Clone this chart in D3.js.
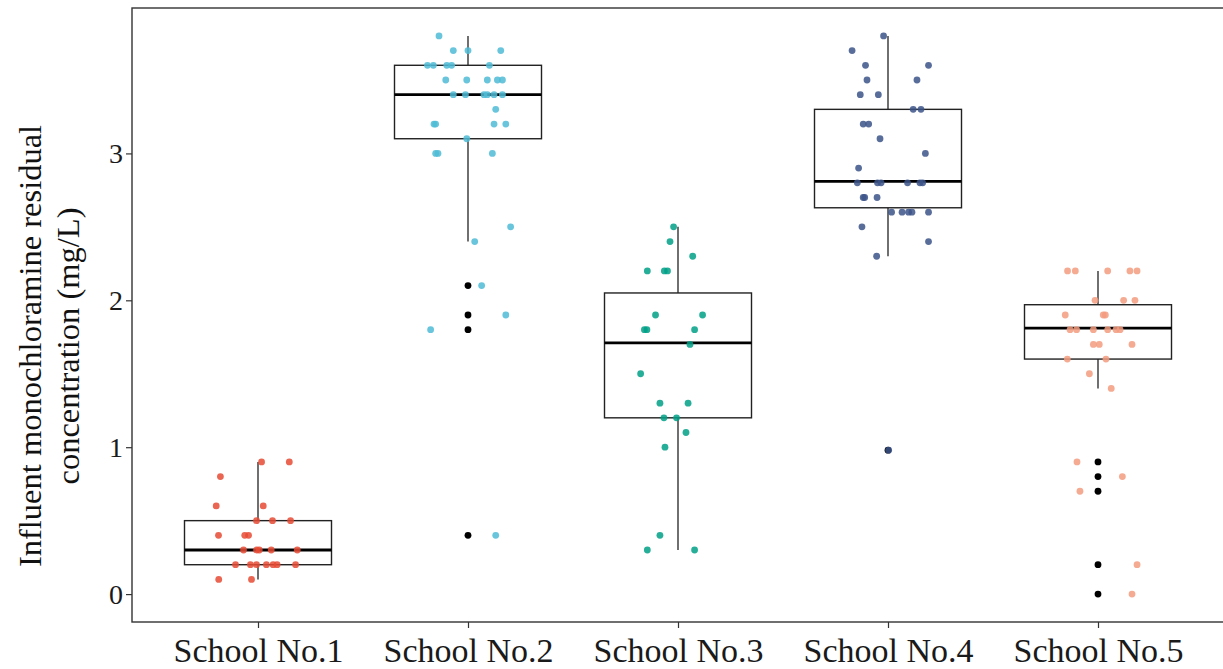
<!DOCTYPE html>
<html>
<head>
<meta charset="utf-8">
<script src="https://cdn.jsdelivr.net/npm/d3@7"></script>
<style>
  html, body { margin: 0; padding: 0; background: #fff; }
  svg { display: block; }
</style>
</head>
<body>
<svg id="chart" width="1223" height="669"></svg>
<script>
// ---------- data ----------
const schools = ["School No.1", "School No.2", "School No.3", "School No.4", "School No.5"];
const colors = ["#E64B35", "#4DBBD5", "#00A087", "#3C5488", "#F39B7F"];
const yTicks = [0, 1, 2, 3];

// box statistics
const q1      = [0.20, 3.10, 1.20, 2.63, 1.60];
const medians = [0.30, 3.40, 1.71, 2.81, 1.81];
const q3      = [0.50, 3.60, 2.05, 3.30, 1.97];
const whiskLo = [0.10, 2.40, 0.30, 2.30, 1.40];
const whiskHi = [0.90, 3.80, 2.50, 3.80, 2.20];

// outliers (drawn in black by the boxplot)
const outliers = [
  [],
  [2.1, 1.9, 1.8, 0.4],
  [],
  [0.98],
  [0.9, 0.8, 0.7, 0.2, 0.0]
];

// observed values and their horizontal jitter (in category units)
const values1 = [0.9, 0.9, 0.8, 0.6, 0.6, 0.5, 0.5, 0.5, 0.4, 0.4, 0.4, 0.3, 0.3, 0.3, 0.3, 0.3,
                 0.2, 0.2, 0.2, 0.2, 0.2, 0.2, 0.2, 0.1, 0.1];
const jitter1 = [0.017, 0.149, -0.179, -0.199, 0.025, -0.007, 0.069, 0.155, -0.188, -0.063, -0.045,
                 -0.069, -0.007, 0.006, 0.063, 0.187, -0.107, -0.036, -0.007, 0.040, 0.072, 0.091, 0.179,
                 -0.187, -0.031];

const values2 = [3.8, 3.7, 3.7, 3.7, 3.6, 3.6, 3.6, 3.6, 3.6, 3.5, 3.5, 3.5, 3.5, 3.5,
                 3.4, 3.4, 3.4, 3.4, 3.4, 3.4, 3.3, 3.2, 3.2, 3.2, 3.2, 3.1, 3.0, 3.0, 3.0,
                 2.5, 2.4, 2.1, 1.9, 1.8, 0.4];
const jitter2 = [-0.138, -0.070, 0.000, 0.156, -0.193, -0.165, -0.101, -0.078, 0.102,
                 -0.106, -0.006, 0.092, 0.140, 0.164, -0.070, -0.012, 0.076, 0.092, 0.124, 0.164,
                 0.132, -0.162, -0.154, 0.124, 0.180, -0.006, -0.154, -0.143, 0.116,
                 0.203, 0.032, 0.065, 0.180, -0.178, 0.132];

const values3 = [2.5, 2.4, 2.3, 2.2, 2.2, 2.2, 1.9, 1.9, 1.8, 1.8, 1.8, 1.7, 1.5,
                 1.3, 1.3, 1.2, 1.2, 1.1, 1.0, 0.4, 0.3, 0.3];
const jitter3 = [-0.021, -0.038, 0.070, -0.146, -0.065, -0.050, -0.107, 0.117, -0.160, -0.148, 0.079,
                 0.057, -0.178, -0.086, 0.048, -0.067, -0.007, 0.038, -0.062, -0.086, -0.146, 0.079];

const values4 = [3.8, 3.7, 3.6, 3.6, 3.5, 3.5, 3.4, 3.4, 3.3, 3.3, 3.2, 3.2, 3.1, 3.0, 2.9,
                 2.8, 2.8, 2.8, 2.8, 2.8, 2.8, 2.7, 2.7, 2.7, 2.6, 2.6, 2.6, 2.6, 2.6,
                 2.5, 2.4, 2.3, 0.98];
const jitter4 = [-0.021, -0.171, -0.107, 0.193, -0.100, 0.138, -0.132, -0.046, 0.120, 0.157,
                 -0.118, -0.092, -0.038, 0.178, -0.140, -0.146, -0.050, -0.033, 0.093, 0.152, 0.165,
                 -0.118, -0.111, -0.052, 0.017, 0.067, 0.098, 0.114, 0.193, -0.124, 0.193, -0.054, 0.003];

const values5 = [2.2, 2.2, 2.2, 2.2, 2.2, 2.0, 2.0, 2.0, 1.9, 1.9, 1.9,
                 1.8, 1.8, 1.8, 1.8, 1.8, 1.8, 1.7, 1.7, 1.7, 1.6, 1.6, 1.5, 1.4,
                 0.9, 0.8, 0.7, 0.2, 0.0];
const jitter5 = [-0.145, -0.108, 0.046, 0.152, 0.186, -0.014, 0.122, 0.176, -0.156, 0.025, 0.035,
                 -0.133, -0.102, -0.022, 0.046, 0.086, 0.105, -0.022, 0.006, 0.162, -0.146, 0.038,
                 -0.041, 0.063, -0.100, 0.116, -0.086, 0.186, 0.162];

const allValues = [values1, values2, values3, values4, values5];
const allJitter = [jitter1, jitter2, jitter3, jitter4, jitter5];

const yTitle1 = "Influent monochloramine residual";
const yTitle2 = "concentration (mg/L)";

// ---------- layout ----------
const panel = { left: 132, top: 8, right: 1224, bottom: 622 };
const svg = d3.select("#chart");
const font = "'Liberation Serif', 'Times New Roman', serif";

const x = d3.scalePoint().domain(schools).range([panel.left, panel.right]).padding(0.6);
const step = x.step();
const y = d3.scaleLinear().domain([-0.19, 3.99]).range([panel.bottom, panel.top]);
const boxW = 0.7 * step;

// panel border
svg.append("rect")
  .attr("x", panel.left).attr("y", panel.top)
  .attr("width", panel.right - panel.left).attr("height", panel.bottom - panel.top)
  .attr("fill", "none").attr("stroke", "#333").attr("stroke-width", 1.4);

// axes
const yAxis = svg.append("g")
  .attr("transform", `translate(${panel.left},0)`)
  .call(d3.axisLeft(y).tickValues(yTicks).tickFormat(d3.format("d")).tickSize(6).tickPadding(3));
yAxis.select(".domain").remove();
yAxis.selectAll("line").attr("stroke", "#333").attr("stroke-width", 1.2);
yAxis.selectAll("text").attr("font-family", font).attr("font-size", 28).attr("fill", "#1a1a1a");

const xAxis = svg.append("g")
  .attr("transform", `translate(0,${panel.bottom})`)
  .call(d3.axisBottom(x).tickSize(6).tickPadding(10));
xAxis.select(".domain").remove();
xAxis.selectAll("line").attr("stroke", "#333").attr("stroke-width", 1.2);
xAxis.selectAll("text").attr("font-family", font).attr("font-size", 34).attr("fill", "#1a1a1a");

// y title
const tg = svg.append("g").attr("transform", "translate(0,346) rotate(-90)");
tg.append("text").attr("x", 0).attr("y", 41).attr("text-anchor", "middle")
  .attr("font-family", font).attr("font-size", 32.5).attr("fill", "#111").text(yTitle1);
tg.append("text").attr("x", 0).attr("y", 79).attr("text-anchor", "middle")
  .attr("font-family", font).attr("font-size", 32.5).attr("fill", "#111").text(yTitle2);

// boxes
const plot = svg.append("g");
schools.forEach((s, i) => {
  const cx = x(s);
  const g = plot.append("g");
  g.append("line").attr("x1", cx).attr("x2", cx)
    .attr("y1", y(q3[i])).attr("y2", y(whiskHi[i]))
    .attr("stroke", "#222").attr("stroke-width", 1.3);
  g.append("line").attr("x1", cx).attr("x2", cx)
    .attr("y1", y(q1[i])).attr("y2", y(whiskLo[i]))
    .attr("stroke", "#222").attr("stroke-width", 1.3);
  g.append("rect").attr("x", cx - boxW / 2).attr("y", y(q3[i]))
    .attr("width", boxW).attr("height", y(q1[i]) - y(q3[i]))
    .attr("fill", "#fff").attr("stroke", "#222").attr("stroke-width", 1.4);
  g.append("line").attr("x1", cx - boxW / 2).attr("x2", cx + boxW / 2)
    .attr("y1", y(medians[i])).attr("y2", y(medians[i]))
    .attr("stroke", "#000").attr("stroke-width", 2.8);
  g.selectAll("circle.out").data(outliers[i]).enter().append("circle")
    .attr("class", "out")
    .attr("cx", cx).attr("cy", d => y(d)).attr("r", 3.4).attr("fill", "#000");
});

// jittered points
schools.forEach((s, i) => {
  const pts = allValues[i].map((v, k) => ({ v, j: allJitter[i][k] }));
  plot.append("g").selectAll("circle").data(pts).enter().append("circle")
    .attr("cx", d => x(s) + d.j * step)
    .attr("cy", d => y(d.v))
    .attr("r", 3.4)
    .attr("fill", colors[i])
    .attr("fill-opacity", 0.85);
});
</script>
</body>
</html>
